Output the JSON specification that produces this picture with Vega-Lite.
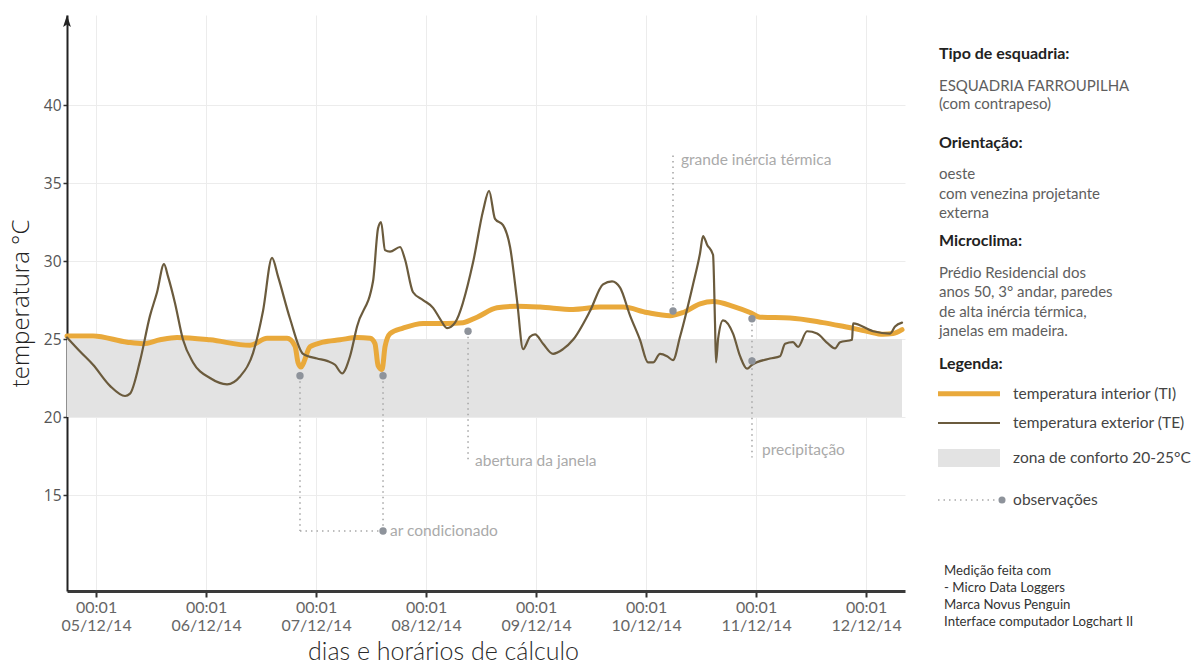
{
  "$schema": "https://vega.github.io/schema/vega-lite/v6.json",
  "autosize": {"type": "pad"},
  "padding": {"left": 9, "top": 15, "right": 0, "bottom": 12},
  "background": "white",
  "spacing": 30,
  "config": {"view": {"stroke": null}, "font": "Lato"},
  "datasets": {
    "band": [{"start": "2014-12-04T17:40", "end": "2014-12-12T07:51", "lo": 20, "hi": 25}],
    "temps": [
      {"serie": "TI", "t": "2014-12-04T17:40", "temp": 25.2},
      {"serie": "TI", "t": "2014-12-04T23:21", "temp": 25.2},
      {"serie": "TI", "t": "2014-12-05T06:46", "temp": 24.8},
      {"serie": "TI", "t": "2014-12-05T10:15", "temp": 24.7},
      {"serie": "TI", "t": "2014-12-05T13:58", "temp": 24.95},
      {"serie": "TI", "t": "2014-12-05T17:40", "temp": 25.1},
      {"serie": "TI", "t": "2014-12-06T00:52", "temp": 24.95},
      {"serie": "TI", "t": "2014-12-06T09:36", "temp": 24.6},
      {"serie": "TI", "t": "2014-12-06T13:19", "temp": 25.05},
      {"serie": "TI", "t": "2014-12-06T17:40", "temp": 25.05},
      {"serie": "TI", "t": "2014-12-06T19:25", "temp": 24.55},
      {"serie": "TI", "t": "2014-12-06T20:04", "temp": 23.5},
      {"serie": "TI", "t": "2014-12-06T20:44", "temp": 23.2},
      {"serie": "TI", "t": "2014-12-06T21:10", "temp": 23.4},
      {"serie": "TI", "t": "2014-12-06T22:41", "temp": 24.5},
      {"serie": "TI", "t": "2014-12-07T01:32", "temp": 24.8},
      {"serie": "TI", "t": "2014-12-07T05:14", "temp": 24.95},
      {"serie": "TI", "t": "2014-12-07T08:57", "temp": 25.1},
      {"serie": "TI", "t": "2014-12-07T11:47", "temp": 25.05},
      {"serie": "TI", "t": "2014-12-07T12:52", "temp": 24.7},
      {"serie": "TI", "t": "2014-12-07T13:32", "temp": 23.3},
      {"serie": "TI", "t": "2014-12-07T14:24", "temp": 23.05},
      {"serie": "TI", "t": "2014-12-07T15:03", "temp": 24.5},
      {"serie": "TI", "t": "2014-12-07T16:09", "temp": 25.35},
      {"serie": "TI", "t": "2014-12-07T18:59", "temp": 25.7},
      {"serie": "TI", "t": "2014-12-07T23:21", "temp": 26.0},
      {"serie": "TI", "t": "2014-12-08T04:35", "temp": 26.0},
      {"serie": "TI", "t": "2014-12-08T08:04", "temp": 26.05},
      {"serie": "TI", "t": "2014-12-08T11:08", "temp": 26.4},
      {"serie": "TI", "t": "2014-12-08T15:29", "temp": 27.0},
      {"serie": "TI", "t": "2014-12-08T19:51", "temp": 27.1},
      {"serie": "TI", "t": "2014-12-09T00:52", "temp": 27.05},
      {"serie": "TI", "t": "2014-12-09T08:04", "temp": 26.9},
      {"serie": "TI", "t": "2014-12-09T13:58", "temp": 27.05},
      {"serie": "TI", "t": "2014-12-09T18:59", "temp": 27.05},
      {"serie": "TI", "t": "2014-12-10T00:13", "temp": 26.7},
      {"serie": "TI", "t": "2014-12-10T05:14", "temp": 26.5},
      {"serie": "TI", "t": "2014-12-10T08:04", "temp": 26.7},
      {"serie": "TI", "t": "2014-12-10T11:47", "temp": 27.25},
      {"serie": "TI", "t": "2014-12-10T14:37", "temp": 27.4},
      {"serie": "TI", "t": "2014-12-10T18:59", "temp": 27.1},
      {"serie": "TI", "t": "2014-12-10T22:41", "temp": 26.7},
      {"serie": "TI", "t": "2014-12-11T00:52", "temp": 26.4},
      {"serie": "TI", "t": "2014-12-11T07:25", "temp": 26.35},
      {"serie": "TI", "t": "2014-12-11T14:37", "temp": 26.05},
      {"serie": "TI", "t": "2014-12-11T18:20", "temp": 25.85},
      {"serie": "TI", "t": "2014-12-12T00:13", "temp": 25.5},
      {"serie": "TI", "t": "2014-12-12T03:43", "temp": 25.3},
      {"serie": "TI", "t": "2014-12-12T05:53", "temp": 25.35},
      {"serie": "TI", "t": "2014-12-12T07:51", "temp": 25.6},
      {"serie": "TE", "t": "2014-12-04T17:40", "temp": 25.1},
      {"serie": "TE", "t": "2014-12-04T20:31", "temp": 24.2},
      {"serie": "TE", "t": "2014-12-04T23:21", "temp": 23.35},
      {"serie": "TE", "t": "2014-12-05T03:03", "temp": 22.0},
      {"serie": "TE", "t": "2014-12-05T06:20", "temp": 21.35},
      {"serie": "TE", "t": "2014-12-05T07:25", "temp": 21.5},
      {"serie": "TE", "t": "2014-12-05T09:36", "temp": 23.6},
      {"serie": "TE", "t": "2014-12-05T11:47", "temp": 26.5},
      {"serie": "TE", "t": "2014-12-05T13:19", "temp": 28.0},
      {"serie": "TE", "t": "2014-12-05T14:50", "temp": 29.8},
      {"serie": "TE", "t": "2014-12-05T15:43", "temp": 29.0},
      {"serie": "TE", "t": "2014-12-05T17:14", "temp": 27.3},
      {"serie": "TE", "t": "2014-12-05T18:59", "temp": 24.95},
      {"serie": "TE", "t": "2014-12-05T21:10", "temp": 23.5},
      {"serie": "TE", "t": "2014-12-06T00:52", "temp": 22.5},
      {"serie": "TE", "t": "2014-12-06T04:35", "temp": 22.1},
      {"serie": "TE", "t": "2014-12-06T07:25", "temp": 22.6},
      {"serie": "TE", "t": "2014-12-06T10:15", "temp": 24.1},
      {"serie": "TE", "t": "2014-12-06T12:26", "temp": 26.8},
      {"serie": "TE", "t": "2014-12-06T14:24", "temp": 30.2},
      {"serie": "TE", "t": "2014-12-06T15:43", "temp": 29.0},
      {"serie": "TE", "t": "2014-12-06T18:20", "temp": 26.3},
      {"serie": "TE", "t": "2014-12-06T21:10", "temp": 24.05},
      {"serie": "TE", "t": "2014-12-07T00:13", "temp": 23.75},
      {"serie": "TE", "t": "2014-12-07T02:24", "temp": 23.6},
      {"serie": "TE", "t": "2014-12-07T04:09", "temp": 23.35},
      {"serie": "TE", "t": "2014-12-07T05:40", "temp": 22.8},
      {"serie": "TE", "t": "2014-12-07T07:25", "temp": 23.9},
      {"serie": "TE", "t": "2014-12-07T08:57", "temp": 25.8},
      {"serie": "TE", "t": "2014-12-07T12:26", "temp": 28.7},
      {"serie": "TE", "t": "2014-12-07T13:32", "temp": 32.1},
      {"serie": "TE", "t": "2014-12-07T14:11", "temp": 32.5},
      {"serie": "TE", "t": "2014-12-07T15:03", "temp": 30.7},
      {"serie": "TE", "t": "2014-12-07T16:09", "temp": 30.6},
      {"serie": "TE", "t": "2014-12-07T18:20", "temp": 30.9},
      {"serie": "TE", "t": "2014-12-07T19:25", "temp": 30.1},
      {"serie": "TE", "t": "2014-12-07T21:10", "temp": 28.0},
      {"serie": "TE", "t": "2014-12-07T23:21", "temp": 27.5},
      {"serie": "TE", "t": "2014-12-08T01:32", "temp": 27.0},
      {"serie": "TE", "t": "2014-12-08T03:03", "temp": 26.3},
      {"serie": "TE", "t": "2014-12-08T04:35", "temp": 25.7},
      {"serie": "TE", "t": "2014-12-08T06:20", "temp": 26.05},
      {"serie": "TE", "t": "2014-12-08T10:15", "temp": 29.9},
      {"serie": "TE", "t": "2014-12-08T12:26", "temp": 33.2},
      {"serie": "TE", "t": "2014-12-08T13:45", "temp": 34.5},
      {"serie": "TE", "t": "2014-12-08T15:03", "temp": 32.7},
      {"serie": "TE", "t": "2014-12-08T16:48", "temp": 32.3},
      {"serie": "TE", "t": "2014-12-08T18:20", "temp": 30.9},
      {"serie": "TE", "t": "2014-12-08T19:51", "temp": 27.5},
      {"serie": "TE", "t": "2014-12-08T21:10", "temp": 24.35},
      {"serie": "TE", "t": "2014-12-08T22:41", "temp": 25.15},
      {"serie": "TE", "t": "2014-12-08T23:47", "temp": 25.3},
      {"serie": "TE", "t": "2014-12-09T01:32", "temp": 24.7},
      {"serie": "TE", "t": "2014-12-09T03:43", "temp": 24.05},
      {"serie": "TE", "t": "2014-12-09T05:53", "temp": 24.35},
      {"serie": "TE", "t": "2014-12-09T08:04", "temp": 24.95},
      {"serie": "TE", "t": "2014-12-09T11:47", "temp": 26.8},
      {"serie": "TE", "t": "2014-12-09T14:37", "temp": 28.5},
      {"serie": "TE", "t": "2014-12-09T16:35", "temp": 28.7},
      {"serie": "TE", "t": "2014-12-09T18:20", "temp": 28.3},
      {"serie": "TE", "t": "2014-12-09T20:31", "temp": 26.5},
      {"serie": "TE", "t": "2014-12-09T22:41", "temp": 24.95},
      {"serie": "TE", "t": "2014-12-10T00:26", "temp": 23.5},
      {"serie": "TE", "t": "2014-12-10T01:32", "temp": 23.5},
      {"serie": "TE", "t": "2014-12-10T03:03", "temp": 24.05},
      {"serie": "TE", "t": "2014-12-10T04:35", "temp": 23.9},
      {"serie": "TE", "t": "2014-12-10T05:53", "temp": 23.65},
      {"serie": "TE", "t": "2014-12-10T07:25", "temp": 25.15},
      {"serie": "TE", "t": "2014-12-10T10:15", "temp": 28.5},
      {"serie": "TE", "t": "2014-12-10T11:47", "temp": 30.5},
      {"serie": "TE", "t": "2014-12-10T12:26", "temp": 31.6},
      {"serie": "TE", "t": "2014-12-10T13:19", "temp": 31.05},
      {"serie": "TE", "t": "2014-12-10T14:37", "temp": 30.4},
      {"serie": "TE", "t": "2014-12-10T15:03", "temp": 26.0},
      {"serie": "TE", "t": "2014-12-10T15:16", "temp": 23.5},
      {"serie": "TE", "t": "2014-12-10T15:43", "temp": 25.0},
      {"serie": "TE", "t": "2014-12-10T16:48", "temp": 26.2},
      {"serie": "TE", "t": "2014-12-10T18:59", "temp": 25.35},
      {"serie": "TE", "t": "2014-12-10T20:31", "temp": 23.9},
      {"serie": "TE", "t": "2014-12-10T22:02", "temp": 23.1},
      {"serie": "TE", "t": "2014-12-10T23:08", "temp": 23.35},
      {"serie": "TE", "t": "2014-12-11T03:03", "temp": 23.75},
      {"serie": "TE", "t": "2014-12-11T05:14", "temp": 23.9},
      {"serie": "TE", "t": "2014-12-11T06:20", "temp": 24.7},
      {"serie": "TE", "t": "2014-12-11T08:04", "temp": 24.8},
      {"serie": "TE", "t": "2014-12-11T09:10", "temp": 24.5},
      {"serie": "TE", "t": "2014-12-11T11:08", "temp": 25.5},
      {"serie": "TE", "t": "2014-12-11T13:19", "temp": 25.35},
      {"serie": "TE", "t": "2014-12-11T15:43", "temp": 24.7},
      {"serie": "TE", "t": "2014-12-11T17:14", "temp": 24.4},
      {"serie": "TE", "t": "2014-12-11T18:20", "temp": 24.8},
      {"serie": "TE", "t": "2014-12-11T20:57", "temp": 24.95},
      {"serie": "TE", "t": "2014-12-11T21:10", "temp": 26.0},
      {"serie": "TE", "t": "2014-12-12T01:32", "temp": 25.5},
      {"serie": "TE", "t": "2014-12-12T05:14", "temp": 25.35},
      {"serie": "TE", "t": "2014-12-12T06:20", "temp": 25.8},
      {"serie": "TE", "t": "2014-12-12T07:51", "temp": 26.05}
    ],
    "obsDots": [
      {"obs": "ar condicionado", "t": "2014-12-06T20:30", "temp": 22.65},
      {"obs": "ar condicionado", "t": "2014-12-07T14:37", "temp": 22.65},
      {"obs": "ar condicionado", "t": "2014-12-07T14:37", "temp": 12.7},
      {"obs": "abertura da janela", "t": "2014-12-08T09:10", "temp": 25.5},
      {"obs": "grande inércia térmica", "t": "2014-12-10T05:53", "temp": 26.8},
      {"obs": "precipitação", "t": "2014-12-10T23:07", "temp": 26.3},
      {"obs": "precipitação", "t": "2014-12-10T23:07", "temp": 23.6}
    ],
    "obsLines": [
      {"t1": "2014-12-06T20:30", "v1": 22.65, "t2": "2014-12-06T20:30", "v2": 12.7},
      {"t1": "2014-12-07T14:37", "v1": 22.65, "t2": "2014-12-07T14:37", "v2": 12.7},
      {"t1": "2014-12-06T20:30", "v1": 12.7, "t2": "2014-12-07T14:37", "v2": 12.7},
      {"t1": "2014-12-08T09:10", "v1": 25.5, "t2": "2014-12-08T09:10", "v2": 17.05},
      {"t1": "2014-12-10T05:53", "v1": 26.8, "t2": "2014-12-10T05:53", "v2": 36.9},
      {"t1": "2014-12-10T23:07", "v1": 26.3, "t2": "2014-12-10T23:07", "v2": 17.4}
    ],
    "obsLabels": [
      {"label": "ar condicionado", "t": "2014-12-07T16:09", "temp": 12.7},
      {"label": "abertura da janela", "t": "2014-12-08T10:41", "temp": 17.2},
      {"label": "grande inércia térmica", "t": "2014-12-10T07:38", "temp": 36.5},
      {"label": "precipitação", "t": "2014-12-11T01:18", "temp": 17.9}
    ],
    "info": [
      {"kind": "heading", "line": 2.0, "text": "Tipo de esquadria:"},
      {"kind": "body", "line": 3.65, "text": "ESQUADRIA FARROUPILHA"},
      {"kind": "body", "line": 4.58, "text": "(com contrapeso)"},
      {"kind": "heading", "line": 6.59, "text": "Orientação:"},
      {"kind": "body", "line": 8.18, "text": "oeste"},
      {"kind": "body", "line": 9.2, "text": "com venezina projetante"},
      {"kind": "body", "line": 10.2, "text": "externa"},
      {"kind": "heading", "line": 11.63, "text": "Microclima:"},
      {"kind": "body", "line": 13.28, "text": "Prédio Residencial dos"},
      {"kind": "body", "line": 14.26, "text": "anos 50, 3° andar, paredes"},
      {"kind": "body", "line": 15.29, "text": "de alta inércia térmica,"},
      {"kind": "body", "line": 16.26, "text": "janelas em madeira."},
      {"kind": "heading", "line": 17.96, "text": "Legenda:"},
      {"kind": "note", "line": 28.62, "text": "Medição feita com"},
      {"kind": "note", "line": 29.5, "text": "- Micro Data Loggers"},
      {"kind": "note", "line": 30.37, "text": "Marca Novus Penguin"},
      {"kind": "note", "line": 31.24, "text": "Interface computador Logchart II"}
    ],
    "keys": [
      {"key": "TI", "line": 19.5, "text": "temperatura interior (TI)"},
      {"key": "TE", "line": 21.0, "text": "temperatura exterior (TE)"},
      {"key": "zona", "line": 22.8, "text": "zona de conforto 20-25°C"},
      {"key": "obs", "line": 24.96, "text": "observações"}
    ]
  },
  "hconcat": [
    {
      "width": 838,
      "height": 576,
      "layer": [
        {
          "data": {"name": "band"},
          "mark": {"type": "rect", "color": "#e3e3e3"},
          "encoding": {
            "x": {
              "field": "start", "type": "temporal", "title": "dias e horários de cálculo",
              "scale": {"domain": [{"year": 2014, "month": 12, "date": 4, "hours": 17, "minutes": 40}, {"year": 2014, "month": 12, "date": 12, "hours": 8, "minutes": 30}], "nice": false},
              "axis": {
                "values": [
                  {"year": 2014, "month": 12, "date": 5, "hours": 0, "minutes": 1},
                  {"year": 2014, "month": 12, "date": 6, "hours": 0, "minutes": 1},
                  {"year": 2014, "month": 12, "date": 7, "hours": 0, "minutes": 1},
                  {"year": 2014, "month": 12, "date": 8, "hours": 0, "minutes": 1},
                  {"year": 2014, "month": 12, "date": 9, "hours": 0, "minutes": 1},
                  {"year": 2014, "month": 12, "date": 10, "hours": 0, "minutes": 1},
                  {"year": 2014, "month": 12, "date": 11, "hours": 0, "minutes": 1},
                  {"year": 2014, "month": 12, "date": 12, "hours": 0, "minutes": 1}
                ],
                "labelExpr": "[timeFormat(datum.value, '%H:%M'), timeFormat(datum.value, '%d/%m/%y')]",
                "labelFont": "Lato",
                "labelFontSize": 16,
                "labelColor": "#666666",
                "labelLineHeight": 18,
                "labelPadding": 2,
                "labelFlush": false,
                "labelOverlap": false,
                "tickColor": "#333333",
                "tickSize": 6,
                "tickWidth": 2,
                "domainColor": "#3a3a3a",
                "domainWidth": 3,
                "grid": true,
                "gridColor": "#ececec",
                "gridWidth": 1,
                "titleFont": "Lato",
                "titleFontSize": 25,
                "titleFontWeight": 300,
                "titleColor": "#2a2a2a",
                "titlePadding": 6,
                "titleX": 376
              }
            },
            "x2": {"field": "end"},
            "y": {
              "field": "lo", "type": "quantitative", "title": "temperatura °C",
              "scale": {"domain": [8.85, 45.77], "nice": false, "zero": false},
              "axis": {
                "values": [15, 20, 25, 30, 35, 40],
                "labelFont": "Open Sans",
                "labelFontSize": 15.5,
                "labelColor": "#555555",
                "labelPadding": 2,
                "tickSize": 4,
                "tickColor": "#333333",
                "tickWidth": 1.5,
                "domainColor": "#222222",
                "domainWidth": 2,
                "grid": true,
                "gridColor": "#ececec",
                "titleFont": "Open Sans",
                "titleFontSize": 24,
                "titleFontWeight": 300,
                "titleColor": "#222222",
                "titlePadding": 10
              }
            },
            "y2": {"field": "hi"}
          }
        },
        {
          "data": {"name": "obsLines"},
          "mark": {"type": "rule", "color": "#a9a9a9", "strokeWidth": 1.6, "strokeDash": [1.5, 4]},
          "encoding": {
            "x": {"field": "t1", "type": "temporal", "title": "dias e horários de cálculo"},
            "x2": {"field": "t2"},
            "y": {"field": "v1", "type": "quantitative", "title": "temperatura °C"},
            "y2": {"field": "v2"}
          }
        },
        {
          "data": {"name": "temps"},
          "transform": [{"filter": "datum.serie === 'TI'"}],
          "mark": {"type": "line", "color": "#e9a93b", "strokeWidth": 5, "interpolate": "monotone", "strokeCap": "round", "strokeJoin": "round"},
          "encoding": {
            "x": {"field": "t", "type": "temporal", "title": "dias e horários de cálculo"},
            "y": {"field": "temp", "type": "quantitative", "title": "temperatura °C"}
          }
        },
        {
          "data": {"name": "temps"},
          "transform": [{"filter": "datum.serie === 'TE'"}],
          "mark": {"type": "line", "color": "#6b5b3d", "strokeWidth": 2.2, "interpolate": "monotone", "strokeCap": "round", "strokeJoin": "round"},
          "encoding": {
            "x": {"field": "t", "type": "temporal", "title": "dias e horários de cálculo"},
            "y": {"field": "temp", "type": "quantitative", "title": "temperatura °C"}
          }
        },
        {
          "data": {"name": "obsDots"},
          "mark": {"type": "point", "filled": true, "color": "#8e939b", "size": 55, "opacity": 1},
          "encoding": {
            "x": {"field": "t", "type": "temporal", "title": "dias e horários de cálculo"},
            "y": {"field": "temp", "type": "quantitative", "title": "temperatura °C"}
          }
        },
        {
          "data": {"name": "obsLabels"},
          "mark": {"type": "text", "align": "left", "baseline": "middle", "font": "Lato", "fontSize": 15.5, "color": "#aaaaaa"},
          "encoding": {
            "x": {"field": "t", "type": "temporal", "title": "dias e horários de cálculo"},
            "y": {"field": "temp", "type": "quantitative", "title": "temperatura °C"},
            "text": {"field": "label"}
          }
        },
        {
          "data": {"values": [{"axis": "y"}]},
          "mark": {"type": "point", "shape": "M-0.45,1.4L0,0L0.45,1.4L0,1.1Z", "filled": true, "color": "#222222", "size": 300, "opacity": 1},
          "encoding": {
            "x": {"datum": {"year": 2014, "month": 12, "date": 4, "hours": 17, "minutes": 40}, "type": "temporal", "title": "dias e horários de cálculo"},
            "y": {"datum": 45.77, "type": "quantitative", "title": "temperatura °C"}
          }
        }
      ]
    },
    {
      "width": 252,
      "height": 640,
      "layer": [
        {
          "data": {"name": "info"},
          "transform": [{"filter": "datum.kind === 'heading'"}],
          "mark": {"type": "text", "align": "left", "baseline": "middle", "font": "Lato", "fontSize": 16, "fontWeight": "bold", "color": "#222222"},
          "encoding": {
            "x": {"datum": 0.004, "type": "quantitative", "scale": {"domain": [0, 1], "nice": false}, "axis": null},
            "y": {"field": "line", "type": "quantitative", "scale": {"domain": [0, 32.94], "nice": false, "zero": false, "reverse": true}, "axis": null},
            "text": {"field": "text"}
          }
        },
        {
          "data": {"name": "info"},
          "transform": [{"filter": "datum.kind === 'body'"}],
          "mark": {"type": "text", "align": "left", "baseline": "middle", "font": "Lato", "fontSize": 15, "color": "#5e5e5e"},
          "encoding": {
            "x": {"datum": 0.004, "type": "quantitative", "axis": null},
            "y": {"field": "line", "type": "quantitative", "axis": null},
            "text": {"field": "text"}
          }
        },
        {
          "data": {"name": "info"},
          "transform": [{"filter": "datum.kind === 'note'"}],
          "mark": {"type": "text", "align": "left", "baseline": "middle", "font": "Lato", "fontSize": 13.2, "color": "#333333"},
          "encoding": {
            "x": {"datum": 0.024, "type": "quantitative", "axis": null},
            "y": {"field": "line", "type": "quantitative", "axis": null},
            "text": {"field": "text"}
          }
        },
        {
          "data": {"name": "keys"},
          "transform": [{"filter": "datum.key === 'TI'"}],
          "mark": {"type": "rule", "color": "#e9a93b", "strokeWidth": 5},
          "encoding": {
            "x": {"datum": 0, "type": "quantitative", "axis": null},
            "x2": {"datum": 0.246},
            "y": {"field": "line", "type": "quantitative", "axis": null}
          }
        },
        {
          "data": {"name": "keys"},
          "transform": [{"filter": "datum.key === 'TE'"}],
          "mark": {"type": "rule", "color": "#6b5b3d", "strokeWidth": 2.2},
          "encoding": {
            "x": {"datum": 0, "type": "quantitative", "axis": null},
            "x2": {"datum": 0.246},
            "y": {"field": "line", "type": "quantitative", "axis": null}
          }
        },
        {
          "data": {"name": "keys"},
          "transform": [{"filter": "datum.key === 'zona'"}],
          "mark": {"type": "point", "shape": "M-1,-0.29L1,-0.29L1,0.29L-1,0.29Z", "filled": true, "color": "#e3e3e3", "size": 3844, "opacity": 1},
          "encoding": {
            "x": {"datum": 0.123, "type": "quantitative", "axis": null},
            "y": {"field": "line", "type": "quantitative", "axis": null}
          }
        },
        {
          "data": {"name": "keys"},
          "transform": [{"filter": "datum.key === 'obs'"}],
          "mark": {"type": "rule", "color": "#a9a9a9", "strokeWidth": 1.6, "strokeDash": [1.5, 4]},
          "encoding": {
            "x": {"datum": 0, "type": "quantitative", "axis": null},
            "x2": {"datum": 0.23},
            "y": {"field": "line", "type": "quantitative", "axis": null}
          }
        },
        {
          "data": {"name": "keys"},
          "transform": [{"filter": "datum.key === 'obs'"}],
          "mark": {"type": "point", "filled": true, "color": "#8e939b", "size": 50, "opacity": 1},
          "encoding": {
            "x": {"datum": 0.254, "type": "quantitative", "axis": null},
            "y": {"field": "line", "type": "quantitative", "axis": null}
          }
        },
        {
          "data": {"name": "keys"},
          "mark": {"type": "text", "align": "left", "baseline": "middle", "font": "Lato", "fontSize": 15.5, "color": "#444444"},
          "encoding": {
            "x": {"datum": 0.298, "type": "quantitative", "axis": null},
            "y": {"field": "line", "type": "quantitative", "axis": null},
            "text": {"field": "text"}
          }
        }
      ]
    }
  ]
}
